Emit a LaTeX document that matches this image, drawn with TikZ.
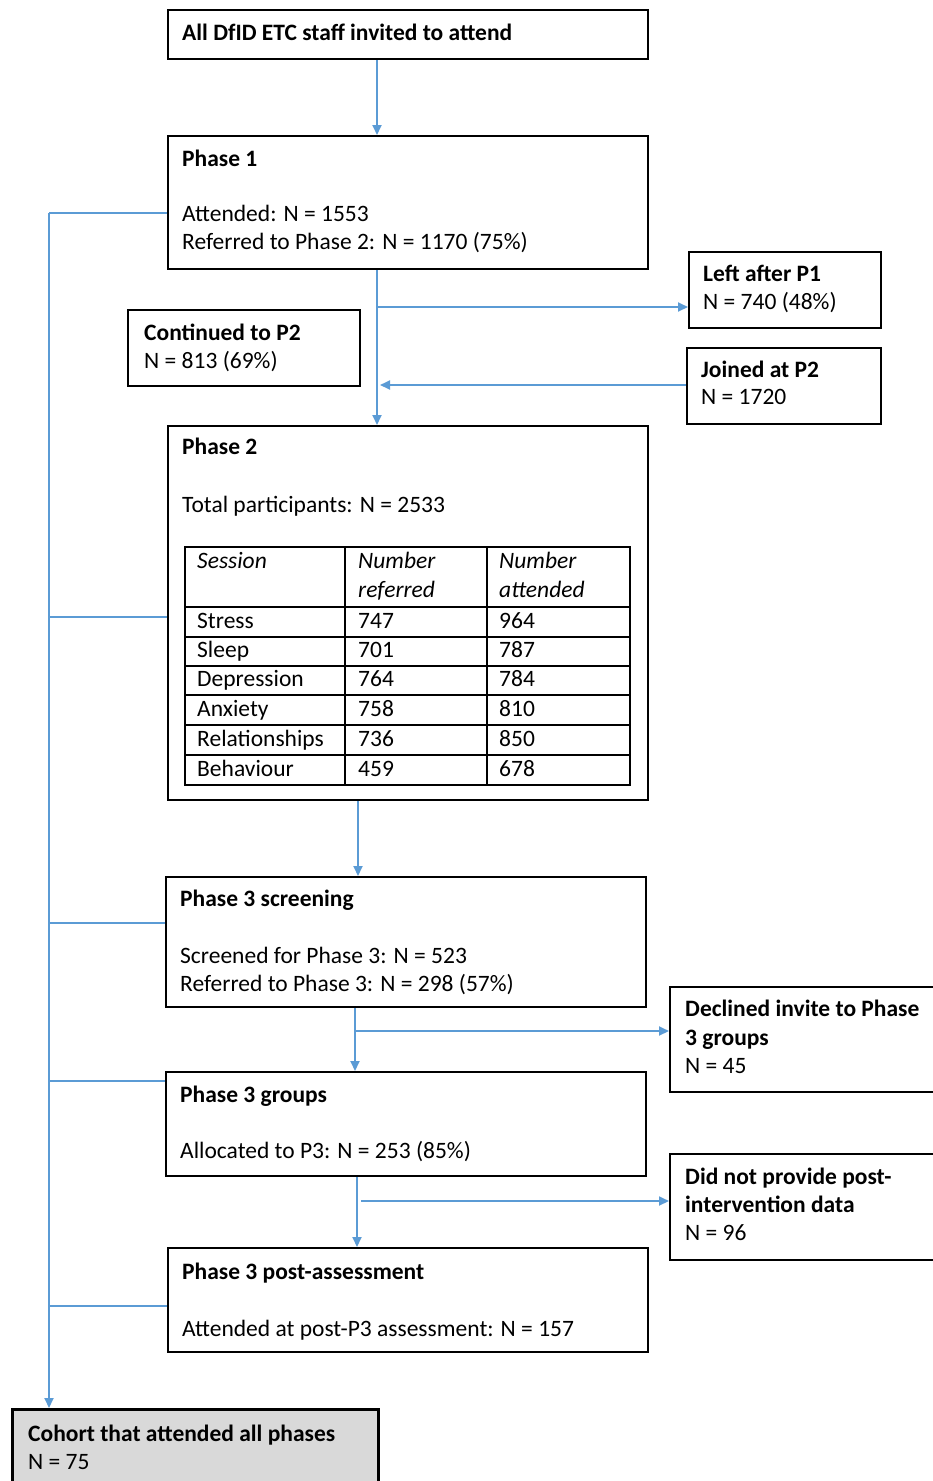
\documentclass[tikz,border=0pt]{standalone}
\usepackage{fontspec}
\setmainfont{Carlito}
\usetikzlibrary{arrows.meta}
\definecolor{lineblue}{RGB}{91,155,213}
\definecolor{cohortgray}{RGB}{217,217,217}
\begin{document}
\begin{tikzpicture}[x=1pt,y=-1pt,
  every node/.style={font=\fontsize{23.5}{28}\selectfont, inner sep=0pt},
  box/.style={draw=black, line width=2pt, anchor=north west, inner sep=0pt},
  lbl/.style={anchor=base west},
  hd/.style={anchor=base west, font=\fontsize{23.5}{28}\selectfont\bfseries},
  it/.style={anchor=base west, font=\fontsize{23.5}{28}\selectfont\itshape},
  conn/.style={draw=lineblue, line width=1.8pt},
  arr/.style={conn, -{Triangle[length=10pt,width=9pt]}}]
\useasboundingbox (0,0) rectangle (933,1481);
\fill[white] (0,0) rectangle (933,1481);

% boxes
\node[box, minimum width=480pt, minimum height=49pt] (top) at (167,9) {};
\node[box, minimum width=480pt, minimum height=133pt] (p1) at (167,135) {};
\node[box, minimum width=192pt, minimum height=76pt] (left) at (688,251) {};
\node[box, minimum width=232pt, minimum height=76pt] (cont) at (127,309) {};
\node[box, minimum width=194pt, minimum height=76pt] (joined) at (686,347) {};
\node[box, minimum width=480pt, minimum height=374pt] (p2) at (167,425) {};
\node[box, minimum width=480pt, minimum height=130pt] (p3s) at (165,876) {};
\node[box, minimum width=280pt, minimum height=105pt] (decl) at (669,986) {};
\node[box, minimum width=480pt, minimum height=104pt] (p3g) at (165,1071) {};
\node[box, minimum width=280pt, minimum height=106pt] (dnp) at (669,1153) {};
\node[box, minimum width=480pt, minimum height=104pt] (post) at (167,1247) {};
\node[box, line width=3pt, fill=cohortgray, minimum width=366pt, minimum height=90pt] (cohort) at (11,1408) {};

% texts
\node[hd] (t0) at (182,40) {All DfID ETC staff invited to attend};
\node[hd] (t1a) at (182,166) {Phase 1};
\node[lbl] (t1b) at (182,221) {Attended: N = 1553};
\node[lbl] (t1c) at (182,249) {Referred to Phase 2: N = 1170 (75\%)};
\node[hd] (tla) at (703,281) {Left after P1};
\node[lbl] (tlb) at (703,309) {N = 740 (48\%)};
\node[hd] (tca) at (144,340) {Continued to P2};
\node[lbl] (tcb) at (144,368) {N = 813 (69\%)};
\node[hd] (tja) at (701,377) {Joined at P2};
\node[lbl] (tjb) at (701,404) {N = 1720};
\node[hd] (t2a) at (182,454) {Phase 2};
\node[lbl] (t2b) at (182,512) {Total participants: N = 2533};
\node[hd] (t3a) at (180,906) {Phase 3 screening};
\node[lbl] (t3b) at (180,963) {Screened for Phase 3: N = 523};
\node[lbl] (t3c) at (180,991) {Referred to Phase 3: N = 298 (57\%)};
\node[hd] (tda) at (685,1016) {Declined invite to Phase};
\node[hd] (tdb) at (685,1045) {3 groups};
\node[lbl] (tdc) at (685,1073) {N = 45};
\node[hd] (t4a) at (180,1102) {Phase 3 groups};
\node[lbl] (t4b) at (180,1158) {Allocated to P3: N = 253 (85\%)};
\node[hd] (tna) at (685,1184) {Did not provide post-};
\node[hd] (tnb) at (685,1212) {intervention data};
\node[lbl] (tnc) at (685,1240) {N = 96};
\node[hd] (t5a) at (182,1279) {Phase 3 post-assessment};
\node[lbl] (t5b) at (182,1336) {Attended at post-P3 assessment: N = 157};
\node[hd] (tka) at (28,1441) {Cohort that attended all phases};
\node[lbl] (tkb) at (28,1469) {N = 75};

% table
\draw[line width=1.6pt] (185,547) rectangle (630,785);
\foreach \yy in {607,637,666,695,725,755} \draw[line width=1.6pt] (185,\yy) -- (630,\yy);
\foreach \xx in {345,487} \draw[line width=1.6pt] (\xx,547) -- (\xx,785);
\node[it] (h1) at (197,568) {Session};
\node[it] (h2a) at (358,568) {Number};
\node[it] (h2b) at (358,597) {referred};
\node[it] (h3a) at (499,568) {Number};
\node[it] (h3b) at (499,597) {attended};
\foreach \nm/\a/\b/\yy [count=\i] in {Stress/747/964/628, Sleep/701/787/657, Depression/764/784/686, Anxiety/758/810/716, Relationships/736/850/746, Behaviour/459/678/776} {
  \node[lbl] (ra\i) at (197,\yy) {\nm};
  \node[lbl] (rb\i) at (358,\yy) {\a};
  \node[lbl] (rc\i) at (499,\yy) {\b};
}

% connector rails
\coordinate (xa) at (377,0);
\coordinate (xj) at (380,0);
\coordinate (xb) at (358,0);
\coordinate (xc) at (355,0);
\coordinate (xd) at (357,0);
\coordinate (xe) at (361,0);
\coordinate (xl) at (49,0);
\coordinate (ya) at (0,307);
\coordinate (yb) at (0,385);
\coordinate (yc) at (0,1031);
\coordinate (yd) at (0,1201);
\coordinate (r1) at (0,213);
\coordinate (r2) at (0,617);
\coordinate (r3) at (0,923);
\coordinate (r4) at (0,1081);
\coordinate (r5) at (0,1306);

\draw[arr] (top.south -| xa) -- (p1.north -| xa);
\draw[arr] (p1.south -| xa) -- (p2.north -| xa);
\draw[arr] (xa |- ya) -- (left.west |- ya);
\draw[arr] (joined.west |- yb) -- (xj |- yb);
\draw[arr] (p2.south -| xb) -- (p3s.north -| xb);
\draw[arr] (p3s.south -| xc) -- (p3g.north -| xc);
\draw[arr] (xc |- yc) -- (decl.west |- yc);
\draw[arr] (p3g.south -| xd) -- (post.north -| xd);
\draw[arr] (xe |- yd) -- (dnp.west |- yd);

\draw[conn] (p1.west |- r1) -- (xl |- r1);
\draw[conn] (p2.west |- r2) -- (xl |- r2);
\draw[conn] (p3s.west |- r3) -- (xl |- r3);
\draw[conn] (p3g.west |- r4) -- (xl |- r4);
\draw[conn] (post.west |- r5) -- (xl |- r5);
\draw[arr] (xl |- r1) -- (cohort.north -| xl);
\end{tikzpicture}
\end{document}
